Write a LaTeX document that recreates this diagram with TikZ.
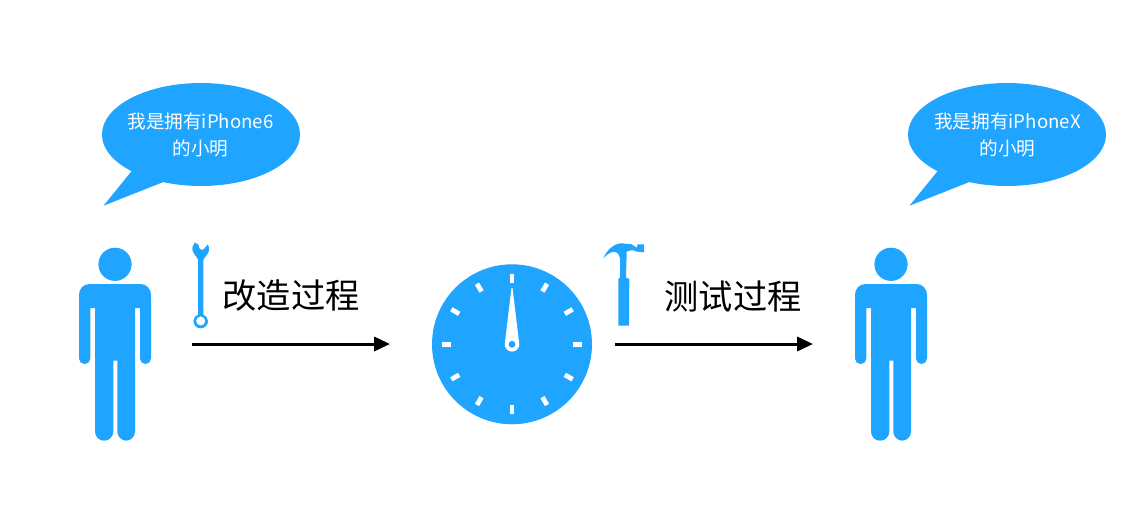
\documentclass[tikz,border=0pt]{standalone}
\usepackage{fontspec}
\setmainfont{Noto Sans CJK SC}
\usetikzlibrary{arrows.meta}
\usetikzlibrary{shapes.geometric}
\usetikzlibrary{calc}
\definecolor{skyblue}{HTML}{1FA4FF}
\tikzset{
	bubble/.style={ellipse, fill=skyblue, minimum width=3.96cm, minimum height=2.06cm, inner sep=0pt},
	saying/.style={text=white, inner sep=0pt, align=center, font=\fontsize{10.6}{15.8}\selectfont},
	title/.style={font=\fontsize{19.5}{24}\selectfont, inner sep=0pt},
	process/.style={-{Triangle[length=9pt,width=8pt]}, line width=1.7pt},
	tick/.style={white, line width=2.7pt, rounded corners=1pt}
}
\begin{document}
\begin{tikzpicture}[x=0.02cm, y=-0.02cm]
	\useasboundingbox (0,0) rectangle (1127,505);
	
	% draw speech bubbles
	\node[bubble] (bubbleA) at (201,134.5) {};
	\node[bubble] (bubbleB) at (1007,134.5) {};
	\foreach \x in {0, 806}
	\fill[skyblue, shift={(\x,0)}] (131.7,171) -- (103.5,205.7) -- (162.7,182.3) -- (170,170) -- cycle;
	\node[saying] (sayingA) at (200.5,135) {我是拥有iPhone6\\的小明};
	\node[saying] (sayingB) at (1007.5,135) {我是拥有iPhoneX\\的小明};
	
	% draw persons
	\foreach \x in {0, 776} {
		\fill[skyblue, shift={(\x,0)}] (115,264.3) circle (16.6);
		\fill[skyblue, shift={(\x,0)}, rounded corners=6pt] (115,284) -- (151,284) [rounded corners=3.1pt] -- (151,364) -- (140,364) [sharp corners] -- (140,308) -- (135,308) [rounded corners=5.2pt] -- (135,440.7) -- (117.3,440.7) [sharp corners] -- (117.3,360.7) -- (113.3,360.7) [rounded corners=5.2pt] -- (113.3,440.7) -- (95,440.7) [sharp corners] -- (95,308) -- (90.3,308) [rounded corners=3.1pt] -- (90.3,364) -- (79,364) [rounded corners=6pt] -- (79,284) -- cycle;
	}
	
	% draw wrench
	\fill[skyblue, even odd rule] (195,242.3) .. controls (196,244) and (197.5,244) .. (198.3,244.5) .. controls (198.5,247.5) and (200,250) .. (201.7,250) .. controls (203.5,250) and (205,248.5) .. (205.7,246.7) .. controls (206.5,246.5) and (207.5,245.5) .. (207.7,244.3) .. controls (209.5,247) and (209.5,251) .. (207.5,254) .. controls (206,256.5) and (204,258) .. (203.3,260) -- (203.3,314.5) .. controls (205.5,315.5) and (208,318) .. (208,321) .. controls (208,325.2) and (204.8,328.3) .. (200.7,328.3) .. controls (196.6,328.3) and (193.4,325.2) .. (193.4,321) .. controls (193.4,318) and (195.5,315.5) .. (198,314.5) -- (198,260) .. controls (197.5,257) and (194,255) .. (192.8,251.5) .. controls (191.8,248) and (192.5,244.5) .. (195,242.3) -- cycle (200.7,321) circle (4.6);
	
	% draw hammer
	\fill[skyblue] (603.3,258.3) .. controls (607,250) and (614,243.3) .. (621.7,243.3) -- (631.7,244.3) -- (636.7,247.7) -- (637.7,244.3) -- (644,244.3) -- (644,252.3) -- (637.7,251.7) -- (631.7,250) -- (626.7,251.7) -- (626,277.7) -- (629.3,279) -- (629,325.7) -- (618.3,325.7) -- (618.3,279) -- (620,277.7) -- (620,258.3) .. controls (619,254) and (617,252) .. (615,251.7) .. controls (611,251.5) and (606,255) .. (603.3,258.3) -- cycle;
	
	% draw clock
	\node[circle, fill=skyblue, minimum size=3.2cm, inner sep=0pt] (clock) at (512,344.3) {};
	\foreach \a in {0, 30, ..., 330}
	\draw[tick] ($(clock.center)+(\a:61)$) -- ($(clock.center)+(\a:70)$);
	\fill[white] (511.5,288) -- (512.5,288) -- (519.3,344.3) arc (0:180:7.3) -- cycle;
	\fill[skyblue] (clock.center) circle (3.4);
	
	% draw labels
	\node[title] (labelA) at (291,296) {改造过程};
	\node[title] (labelB) at (733,296) {测试过程};
	
	% draw arrows
	\coordinate (startA) at (192,344);
	\coordinate (endA) at (390,344);
	\coordinate (startB) at (615,344);
	\coordinate (endB) at (813,344);
	\draw[process] (startA) -- (endA);
	\draw[process] (startB) -- (endB);
\end{tikzpicture}
\end{document}
